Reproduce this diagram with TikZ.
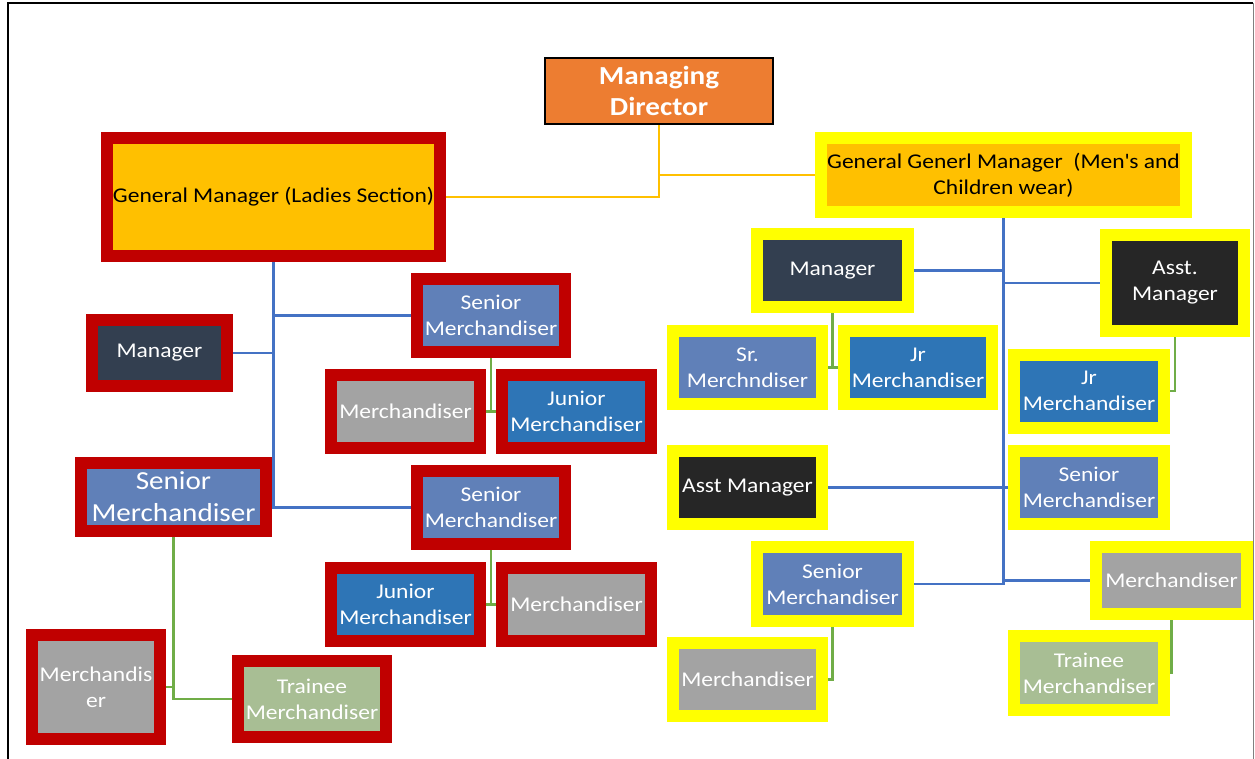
\documentclass[tikz,border=0pt]{standalone}
\usepackage{fontspec}
\setmainfont{Carlito}[FakeStretch=1.12]
\usetikzlibrary{backgrounds}

\definecolor{ladyred}{HTML}{C00000}
\definecolor{menyellow}{HTML}{FFFF00}
\definecolor{gold}{HTML}{FFC000}
\definecolor{mdorange}{HTML}{ED7D31}
\definecolor{slate}{HTML}{333F50}
\definecolor{nearblack}{HTML}{262626}
\definecolor{steel}{HTML}{6080B8}
\definecolor{jrblue}{HTML}{2E75B6}
\definecolor{midgrey}{HTML}{A3A3A3}
\definecolor{sage}{HTML}{A8BE94}
\definecolor{linkblue}{HTML}{4472C4}
\definecolor{linkgreen}{HTML}{70AD47}

\begin{document}
\begin{tikzpicture}[
    x=1pt, y=-1pt,
    card/.style={line width=12pt, fill=#1, inner sep=0pt, align=center, text=white, font=\fontsize{21}{26}\selectfont},
    ladies/.style={card=#1, draw=ladyred},
    mens/.style={card=#1, draw=menyellow},
    std/.style={minimum width=148pt, minimum height=73pt},
    branch/.style={draw=linkblue, line width=2.5pt},
    twig/.style={draw=linkgreen, line width=2.5pt},
    feeder/.style={draw=gold, line width=2.5pt},
]
\useasboundingbox (0,0) rectangle (1255,759);

% page frame
\draw[line width=2pt] (8,759) -- (8,3) -- (1253,3);
\draw[gray, line width=0.6pt] (1253,3) -- (1253,759);

% top
\node[draw=black, line width=2pt, fill=mdorange, text=white, align=center, inner sep=0pt,
      minimum width=228pt, minimum height=66pt, font=\bfseries\fontsize{26}{31}\selectfont]
      (md) at (659,91) {Managing\\Director};

% ladies section
\node[ladies=gold, text=black, minimum width=333pt, minimum height=118pt] (gml) at (273.5,197) {General Manager (Ladies Section)};
\node[ladies=slate, minimum width=135pt, minimum height=66pt] (mgrL) at (159.5,353) {Manager};
\node[ladies=steel, std] (ssm1) at (491,315.5) {Senior\\Merchandiser};
\node[ladies=midgrey, std, minimum width=149pt] (mer1) at (405.5,411.5) {Merchandiser};
\node[ladies=jrblue, std, minimum width=149pt] (jm1) at (576.5,411.5) {Junior\\Merchandiser};
\node[ladies=steel, minimum width=185pt, minimum height=68pt, font=\fontsize{26}{32}\selectfont] (lsm) at (173.5,497) {Senior\\Merchandiser};
\node[ladies=steel, std] (ssm2) at (491,507.5) {Senior\\Merchandiser};
\node[ladies=jrblue, std, minimum width=149pt] (jm2) at (405.5,604.5) {Junior\\Merchandiser};
\node[ladies=midgrey, std, minimum width=149pt] (mer2) at (576.5,604.5) {Merchandiser};
\node[ladies=midgrey, minimum width=128pt, minimum height=104pt] (merL) at (96,687) {Merchandis\\er};
\node[ladies=sage, std, minimum height=76pt] (trn) at (312,699) {Trainee\\Merchandiser};

% men's and children section
\node[mens=gold, text=black, minimum width=365pt, minimum height=74pt] (gmm) at (1003.5,175) {General Generl Manager~~(Men\textquotesingle s and\\Children wear)};
\node[mens=slate, std, minimum width=151pt] (mgrR) at (832.5,270.5) {Manager};
\node[mens=nearblack, minimum width=138pt, minimum height=96pt] (amR) at (1175,283) {Asst.\\Manager};
\node[mens=steel, std, minimum width=149pt] (srm) at (747.5,367.5) {Sr.\\Merchndiser};
\node[mens=jrblue, std] (jrm) at (918,367.5) {Jr\\Merchandiser};
\node[mens=jrblue, std, minimum width=150pt] (jrR) at (1089,391) {Jr\\Merchandiser};
\node[mens=nearblack, std, minimum width=149pt] (asm) at (747.5,487.5) {Asst Manager};
\node[mens=steel, std, minimum width=150pt] (smR) at (1089,487.5) {Senior\\Merchandiser};
\node[mens=steel, std, minimum width=151pt, minimum height=74pt] (smM) at (832.5,584) {Senior\\Merchandiser};
\node[mens=midgrey, std, minimum width=151pt, minimum height=67pt] (mrR) at (1171.5,580.5) {Merchandiser};
\node[mens=midgrey, std, minimum width=149pt] (mrL) at (747.5,679.5) {Merchandiser};
\node[mens=sage, std, minimum width=150pt, minimum height=74pt] (trR) at (1089,673) {Trainee\\Merchandiser};

\begin{scope}[on background layer]
% director to both general managers
\draw[feeder] (md.south) |- (gml.east);
\draw[feeder] (md.south) |- (gmm.west);

% ladies section links
\draw[branch] (gml.south) |- (ssm1.west);
\draw[branch] (gml.south) |- (ssm2.west);
\draw[branch] (mgrL.east) -- (mgrL.east -| gml.south);
\draw[twig] (ssm1.south) |- (mer1.east);
\draw[twig] (ssm1.south) |- (jm1.west);
\draw[twig] (ssm2.south) |- (jm2.east);
\draw[twig] (ssm2.south) |- (mer2.west);
\draw[twig] (lsm.south) |- (merL.east);
\draw[twig] (lsm.south) |- (trn.west);

% men's and children section links
\draw[branch] (gmm.south) |- (smM.east);
\draw[branch] (mgrR.east) -- (mgrR.east -| gmm.south);
\draw[branch] (amR.west) -- (amR.west -| gmm.south);
\draw[branch] (asm.east) -- (smR.west);
\draw[branch] (mrR.west) -- (mrR.west -| gmm.south);
\draw[twig] (mgrR.south) |- (srm.east);
\draw[twig] (mgrR.south) |- (jrm.west);
\draw[twig] (amR.south) |- (jrR.east);
\draw[twig] (smM.south) |- (mrL.east);
\draw[twig] (mrR.south) |- (trR.east);
\end{scope}

\end{tikzpicture}
\end{document}
